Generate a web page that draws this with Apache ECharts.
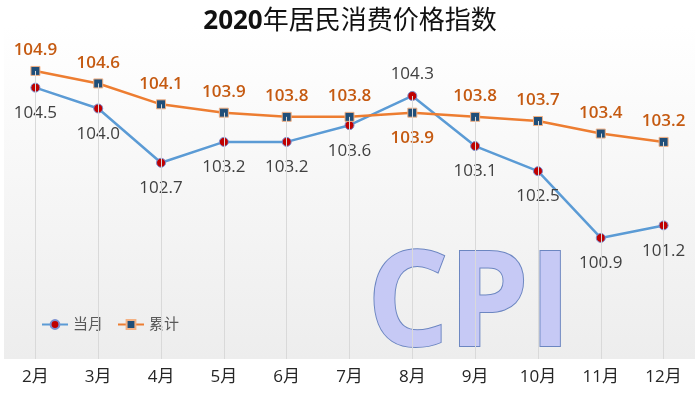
<!DOCTYPE html>
<html>
<head>
<meta charset="utf-8">
<title>2020年居民消费价格指数</title>
<script src="https://cdn.jsdelivr.net/npm/echarts@6/dist/echarts.min.js"></script>
<style>
	html, body { margin: 0; padding: 0; background: #ffffff; }
	#chart { width: 700px; height: 401px; }
</style>
</head>
<body>
<div id="chart"></div>
<script>
// 月份
const months = ['2月', '3月', '4月', '5月', '6月', '7月', '8月', '9月', '10月', '11月', '12月']
// 当月
const monthly = [104.5, 104.0, 102.7, 103.2, 103.2, 103.6, 104.3, 103.1, 102.5, 100.9, 101.2]
// 累计
const cumulative = [104.9, 104.6, 104.1, 103.9, 103.8, 103.8, 103.9, 103.8, 103.7, 103.4, 103.2]
// y轴范围
const yMin = 98
const yMax = 106

const font = '"Open Sans", "Noto Sans CJK SC", sans-serif'

// 8月标签位置互换
const flipIndex = 6

const myChart = echarts.init(document.getElementById('chart'))

const monthlyData = monthly.map((v, i) => {
	if (i === flipIndex) {
		return { value: v, label: { position: 'top', distance: 8 } }
	}
	return v
})
const cumulativeData = cumulative.map((v, i) => {
	if (i === flipIndex) {
		return { value: v, label: { position: 'bottom', distance: 12 } }
	}
	return v
})

// 垂线（从点到底部）
const dropLines = months.map((m, i) => [
	{ coord: [m, yMin] },
	{ coord: [m, Math.max(monthly[i], cumulative[i])] }
])

const option = {
	animation: false,
	backgroundColor: '#ffffff',
	title: {
		text: '{a|2020}{b|年居民消费价格指数}',
		left: 'center',
		top: 4,
		textStyle: {
			rich: {
				a: { fontSize: 26, fontWeight: 'bold', color: '#111111', fontFamily: font },
				b: { fontSize: 26, fontWeight: 'normal', color: '#111111', fontFamily: font }
			}
		}
	},
	legend: {
		data: ['当月', '累计'],
		left: 36,
		top: 312,
		itemWidth: 26,
		itemHeight: 11,
		itemGap: 14,
		textStyle: {
			fontSize: 15,
			color: '#595959',
			fontFamily: font
		}
	},
	grid: {
		left: 4,
		right: 5,
		top: 25,
		bottom: 42,
		show: true,
		borderWidth: 0,
		backgroundColor: new echarts.graphic.LinearGradient(0, 0, 0, 1, [
			{ offset: 0, color: '#ffffff' },
			{ offset: 1, color: '#ededed' }
		])
	},
	xAxis: {
		type: 'category',
		data: months,
		boundaryGap: true,
		axisLine: { show: false },
		axisTick: { show: false },
		splitLine: { show: false },
		axisLabel: {
			fontSize: 17,
			color: '#262626',
			margin: 10,
			fontFamily: font
		}
	},
	yAxis: {
		type: 'value',
		min: yMin,
		max: yMax,
		show: false,
		splitLine: { show: false }
	},
	graphic: [
		{
			type: 'text',
			x: 367,
			y: 242,
			scaleX: 0.97,
			z: 1,
			style: {
				text: 'CPI',
				font: 'bold 132px "Open Sans"',
				fill: '#c6c9f5',
				stroke: '#6c86c1',
				lineWidth: 2,
				shadowBlur: 3,
				shadowOffsetX: 2,
				shadowOffsetY: 2,
				shadowColor: 'rgba(0,0,0,0.25)'
			}
		}
	],
	series: [
		{
			name: 'drop',
			type: 'line',
			data: [],
			z: 1,
			silent: true,
			markLine: {
				silent: true,
				symbol: 'none',
				label: { show: false },
				lineStyle: { color: '#d9d9d9', width: 1, type: 'solid' },
				data: dropLines
			}
		},
		{
			name: '当月',
			type: 'line',
			data: monthlyData,
			z: 3,
			symbol: 'circle',
			symbolSize: 9,
			lineStyle: { color: '#5b9bd5', width: 2.5 },
			itemStyle: { color: '#c00000', borderColor: '#7b8fd0', borderWidth: 1 },
			label: {
				show: true,
				position: 'bottom',
				distance: 12,
				fontSize: 17,
				color: '#404040',
				fontFamily: font,
				formatter: (p) => p.value.toFixed(1)
			}
		},
		{
			name: '累计',
			type: 'line',
			data: cumulativeData,
			z: 4,
			symbol: 'rect',
			symbolSize: 9,
			lineStyle: { color: '#ed7d31', width: 2.5 },
			itemStyle: { color: '#1f4e79', borderColor: '#f4b183', borderWidth: 1 },
			label: {
				show: true,
				position: 'top',
				distance: 7,
				fontSize: 17,
				fontWeight: 600,
				color: '#c55a11',
				fontFamily: font,
				formatter: (p) => p.value.toFixed(1)
			}
		}
	]
}

myChart.setOption(option)
</script>
</body>
</html>
